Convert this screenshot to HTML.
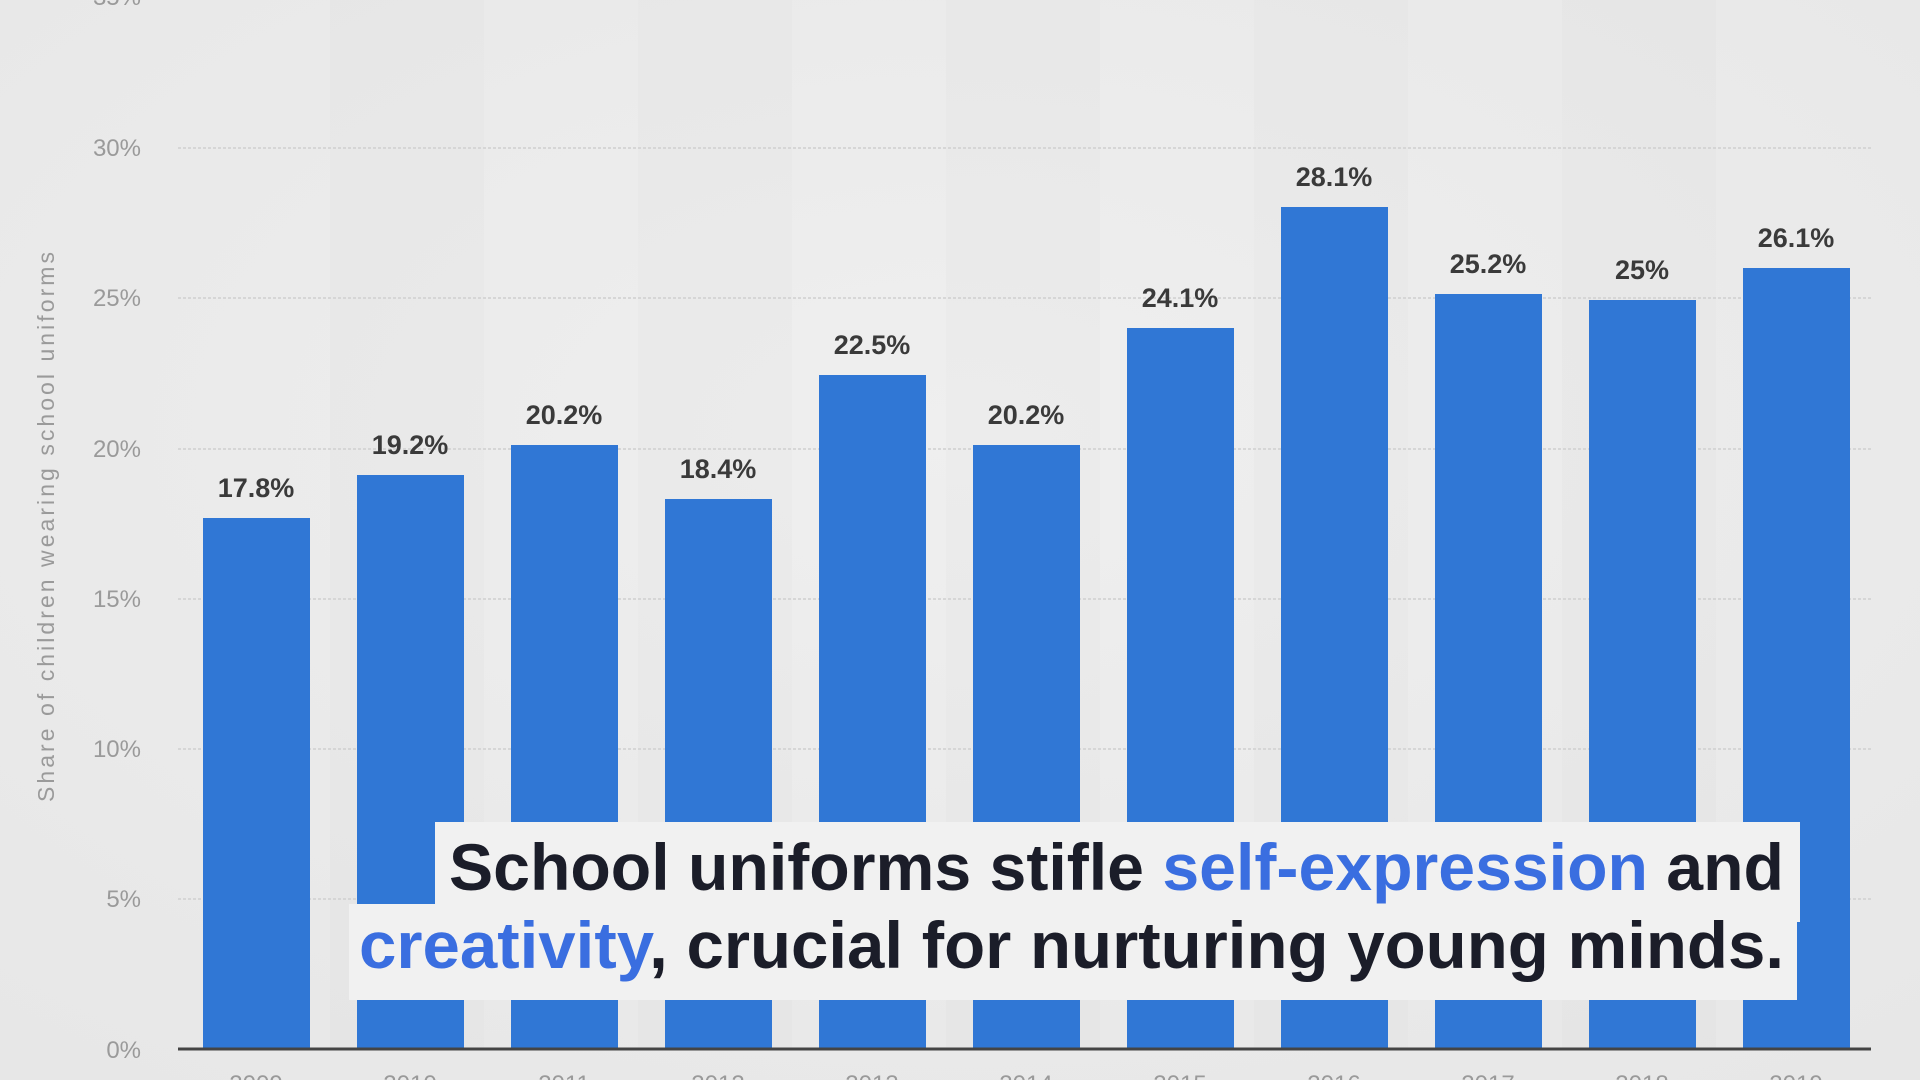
<!DOCTYPE html>
<html><head><meta charset="utf-8"><style>
html,body{margin:0;padding:0;background:#ececec;overflow:hidden}
svg{display:block}
</style></head><body>
<svg width="1920" height="1080" viewBox="0 0 1920 1080" xmlns="http://www.w3.org/2000/svg">
<defs>
<radialGradient id="bg" cx="50%" cy="40%" r="75%">
<stop offset="0" stop-color="#efefef"/><stop offset="1" stop-color="#e7e7e7"/>
</radialGradient>
</defs>
<rect width="1920" height="1080" fill="url(#bg)"/>
<g fill="#000" opacity="0.01">
<rect x="330" y="0" width="154" height="1050"/>
<rect x="638" y="0" width="154" height="1050"/>
<rect x="946" y="0" width="154" height="1050"/>
<rect x="1254" y="0" width="154" height="1050"/>
<rect x="1562" y="0" width="154" height="1050"/>
</g>
<g stroke="#cfcfcf" stroke-width="1.5" stroke-dasharray="3,2">
<line x1="178" x2="1871" y1="148" y2="148"/>
<line x1="178" x2="1871" y1="298" y2="298"/>
<line x1="178" x2="1871" y1="449" y2="449"/>
<line x1="178" x2="1871" y1="599" y2="599"/>
<line x1="178" x2="1871" y1="749" y2="749"/>
<line x1="178" x2="1871" y1="899" y2="899"/>
</g>
<g font-family="Liberation Sans, sans-serif" font-size="24" fill="#9a9a9a" text-anchor="end">
<text x="141" y="5">35%</text>
<text x="141" y="156">30%</text>
<text x="141" y="306">25%</text>
<text x="141" y="457">20%</text>
<text x="141" y="607">15%</text>
<text x="141" y="757">10%</text>
<text x="141" y="907">5%</text>
<text x="141" y="1058">0%</text>
</g>
<text transform="translate(54,527) rotate(-90)" font-family="Liberation Sans, sans-serif" font-size="23" fill="#9a9a9a" text-anchor="middle" textLength="550">Share of children wearing school uniforms</text>
<g fill="#3077d5">
<rect x="203" y="518" width="107" height="531"/>
<rect x="357" y="475" width="107" height="574"/>
<rect x="511" y="445" width="107" height="604"/>
<rect x="665" y="499" width="107" height="550"/>
<rect x="819" y="375" width="107" height="674"/>
<rect x="973" y="445" width="107" height="604"/>
<rect x="1127" y="328" width="107" height="721"/>
<rect x="1281" y="207" width="107" height="842"/>
<rect x="1435" y="294" width="107" height="755"/>
<rect x="1589" y="300" width="107" height="749"/>
<rect x="1743" y="268" width="107" height="781"/>
</g>
<g font-family="Liberation Sans, sans-serif" font-size="27" font-weight="bold" fill="#3a3a3a" text-anchor="middle">
<text x="256" y="497">17.8%</text>
<text x="410" y="454">19.2%</text>
<text x="564" y="424">20.2%</text>
<text x="718" y="478">18.4%</text>
<text x="872" y="354">22.5%</text>
<text x="1026" y="424">20.2%</text>
<text x="1180" y="307">24.1%</text>
<text x="1334" y="186">28.1%</text>
<text x="1488" y="273">25.2%</text>
<text x="1642" y="279">25%</text>
<text x="1796" y="247">26.1%</text>
</g>
<line x1="178" x2="1871" y1="1049" y2="1049" stroke="#444" stroke-width="3"/>
<g font-family="Liberation Sans, sans-serif" font-size="24" fill="#9a9a9a" text-anchor="middle">
<text x="256" y="1092">2009</text><text x="410" y="1092">2010</text><text x="564" y="1092">2011</text>
<text x="718" y="1092">2012</text><text x="872" y="1092">2013</text><text x="1026" y="1092">2014</text>
<text x="1180" y="1092">2015</text><text x="1334" y="1092">2016</text><text x="1488" y="1092">2017</text>
<text x="1642" y="1092">2018</text><text x="1796" y="1092">2019</text>
</g>
<rect x="435" y="822" width="1365" height="100" fill="#f1f1f1"/>
<rect x="349" y="904" width="1448" height="96" fill="#f1f1f1"/>
<g font-family="Liberation Sans, sans-serif" font-size="66" font-weight="bold" fill="#1b1d29">
<text x="449" y="890" textLength="1335" lengthAdjust="spacingAndGlyphs">School uniforms stifle <tspan fill="#3a6ee0">self-expression</tspan> and</text>
<text x="359" y="968" textLength="1425" lengthAdjust="spacingAndGlyphs"><tspan fill="#3a6ee0">creativity</tspan>, crucial for nurturing young minds.</text>
</g>
</svg>
</body></html>
